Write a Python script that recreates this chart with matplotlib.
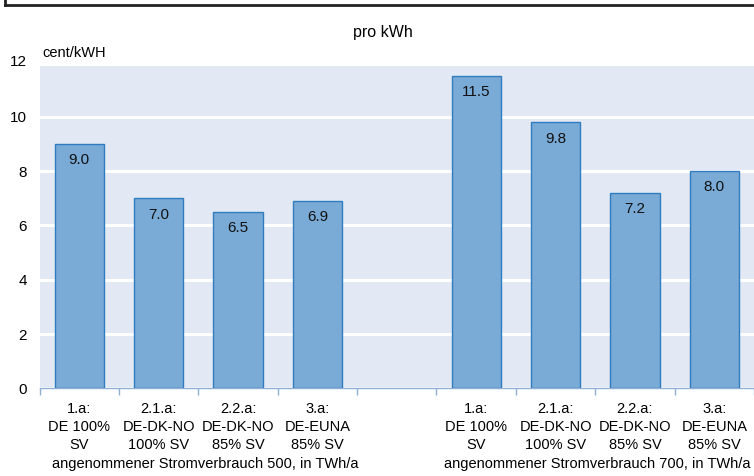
import numpy as np
import matplotlib
matplotlib.use('Agg')
import matplotlib.pyplot as plt
from matplotlib.lines import Line2D

plt.rcParams['font.family'] = ['Liberation Sans', 'DejaVu Sans']

# data
labels = ['1.a:\nDE 100%\nSV', '2.1.a:\nDE-DK-NO\n100% SV', '2.2.a:\nDE-DK-NO\n85% SV', '3.a:\nDE-EUNA\n85% SV',
          '',
          '1.a:\nDE 100%\nSV', '2.1.a:\nDE-DK-NO\n100% SV', '2.2.a:\nDE-DK-NO\n85% SV', '3.a:\nDE-EUNA\n85% SV']
values = [9.0, 7.0, 6.5, 6.9, None, 11.5, 9.8, 7.2, 8.0]
group_labels = ['angenommener Stromverbrauch 500, in TWh/a', 'angenommener Stromverbrauch 700, in TWh/a']
yticks = [0, 2, 4, 6, 8, 10]

fig = plt.figure(figsize=(7.54, 4.76), dpi=100)
ax = fig.add_axes([0.0524, 0.1842, 0.9476, 0.6771])
ax.set_facecolor('#e3e9f4')

x = np.arange(len(labels))
for xi, v in zip(x, values):
    if v is None:
        continue
    ax.bar(xi, v, width=0.62, color='#7aaad6', edgecolor='#2f7cc0', linewidth=1.0, zorder=3)
    ax.text(xi, v - 0.6, f'{v:.1f}', ha='center', va='center', fontsize=11, color='#111111', zorder=4)

ax.set_xlim(-0.5, len(labels) - 0.5)
ax.set_ylim(0, 11.87)
ax.set_yticks(yticks)
ax.yaxis.grid(True, color='white', linewidth=2.2, zorder=1)
ax.set_axisbelow(True)
ax.tick_params(axis='y', length=0, labelsize=11, pad=9)
ax.text(-0.017, 12, '12', transform=ax.get_yaxis_transform(), ha='right', va='center',
        fontsize=11, clip_on=False)

# category ticks on boundaries
ax.set_xticks(np.arange(-0.5, len(labels) + 0.5, 1.0))
ax.set_xticklabels([])
ax.set_xticks(x, minor=True)
ax.set_xticklabels(labels, minor=True, fontsize=10.5, linespacing=1.35)
ax.tick_params(axis='x', which='major', length=5, color='#8fb0d4', width=1)
ax.tick_params(axis='x', which='minor', length=0, pad=10)

for s in ['top', 'right', 'left']:
    ax.spines[s].set_visible(False)
ax.spines['bottom'].set_color('#8fb0d4')
ax.spines['bottom'].set_linewidth(1)

fig.text(0.508, 0.931, 'pro kWh', ha='center', va='center', fontsize=11.5)
fig.text(0.056, 0.888, 'cent/kWH', ha='left', va='center', fontsize=10.5)
fig.text(0.272, 0.025, group_labels[0], ha='center', va='center', fontsize=10.5)
fig.text(0.792, 0.025, group_labels[1], ha='center', va='center', fontsize=10.5)

# remnant of frame at top
fig.add_artist(Line2D([0.006, 1.0], [0.9885, 0.9885], color='#222222', linewidth=2))
fig.add_artist(Line2D([0.006, 0.006], [0.9885, 1.0], color='#222222', linewidth=2))

fig.savefig('out.png', dpi=100)
